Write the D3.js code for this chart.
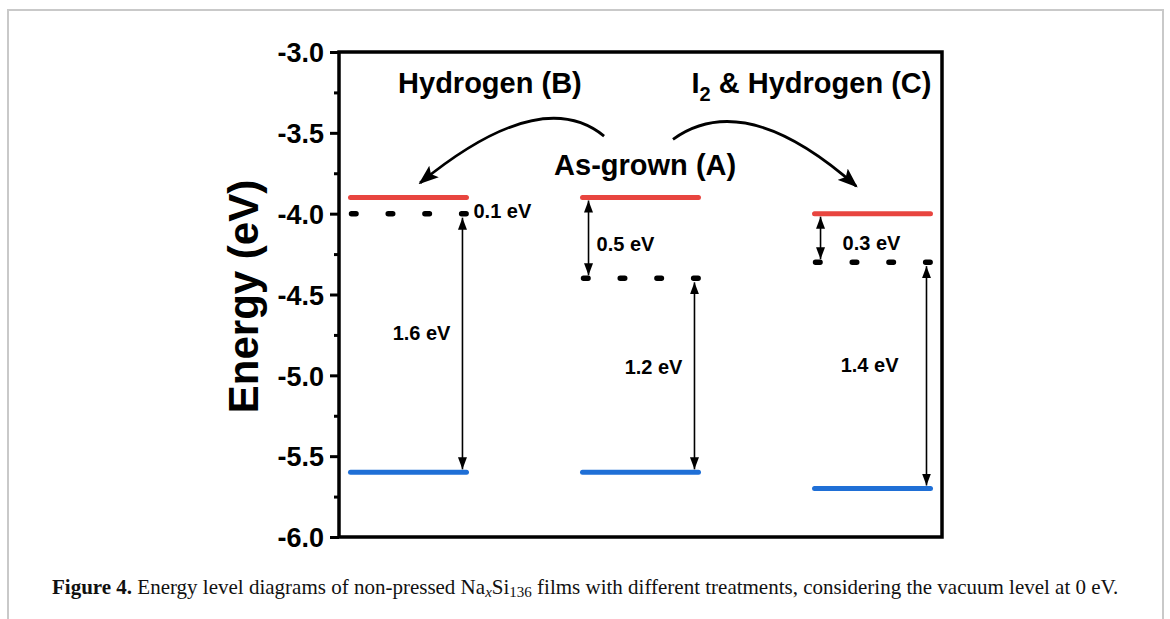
<!DOCTYPE html>
<html>
<head>
<meta charset="utf-8">
<script src="https://cdn.jsdelivr.net/npm/d3@7"></script>
<style>
  html, body { margin: 0; padding: 0; background: #fff; }
  svg { display: block; }
</style>
</head>
<body>
<svg id="chart" width="1170" height="619"></svg>
<script>
// ---------------- data ----------------
const categories = ["Hydrogen (B)", "As-grown (A)", "I2 & Hydrogen (C)"];
const cbmLevels   = [-3.9, -3.9, -4.0];   // red lines
const fermiLevels = [-4.0, -4.4, -4.3];   // dotted lines
const vbmLevels   = [-5.6, -5.6, -5.7];   // blue lines
const upperGapLabels = ["0.1 eV", "0.5 eV", "0.3 eV"];
const lowerGapLabels = ["1.6 eV", "1.2 eV", "1.4 eV"];
const yTicks = [-3.0, -3.5, -4.0, -4.5, -5.0, -5.5, -6.0];
const yMinorTicks = [-3.25, -3.75, -4.25, -4.75, -5.25, -5.75];
const yDomain = [-6.0, -3.0];
const yTitle = "Energy (eV)";
const captionBold = "Figure 4.";

// ---------------- layout ----------------
const svg = d3.select("#chart");
const plot = { left: 339, right: 942, top: 52, bottom: 537 };

const x = d3.scaleBand().domain(categories)
  .range([plot.left, plot.right]).paddingInner(0.483).paddingOuter(0.041);
const bw = x.bandwidth();
const y = d3.scaleLinear().domain(yDomain).range([plot.bottom, plot.top]);
// position along category axis: 0 = centre of first level set, 1 = second, ...
const xc = d3.scaleLinear().domain([0, 2])
  .range([x(categories[0]) + bw / 2, x(categories[2]) + bw / 2]);

const RED = "#e8453f", BLUE = "#1f6fd6";

// page frame
svg.append("rect").attr("x", 8).attr("y", 10).attr("width", 1155).attr("height", 700)
  .attr("fill", "none").attr("stroke", "#c9c9c9").attr("stroke-width", 2);

// markers
const defs = svg.append("defs");
defs.append("marker").attr("id", "hEnd").attr("viewBox", "0 -5 12 10")
  .attr("refX", 12).attr("refY", 0).attr("markerWidth", 12).attr("markerHeight", 10)
  .attr("markerUnits", "userSpaceOnUse").attr("orient", "auto")
  .append("path").attr("d", "M0,-4.5L12,0L0,4.5Z").attr("fill", "#000");
defs.append("marker").attr("id", "hStart").attr("viewBox", "0 -5 12 10")
  .attr("refX", 0).attr("refY", 0).attr("markerWidth", 12).attr("markerHeight", 10)
  .attr("markerUnits", "userSpaceOnUse").attr("orient", "auto")
  .append("path").attr("d", "M12,-4.5L0,0L12,4.5Z").attr("fill", "#000");
defs.append("marker").attr("id", "bigHead").attr("viewBox", "0 -8 20 16")
  .attr("refX", 18).attr("refY", 0).attr("markerWidth", 20).attr("markerHeight", 16)
  .attr("markerUnits", "userSpaceOnUse").attr("orient", "auto")
  .append("path").attr("d", "M0,-7.5L20,0L0,7.5L4,0Z").attr("fill", "#000");

// ---------------- axes ----------------
const yAxis = d3.axisLeft(y).tickValues(yTicks).tickSize(9).tickPadding(6)
  .tickFormat(d => d.toFixed(1));
const gy = svg.append("g").attr("transform", `translate(${plot.left},0)`).call(yAxis);
gy.select(".domain").remove();
gy.selectAll(".tick line").attr("stroke", "#000").attr("stroke-width", 3);
gy.selectAll(".tick text").attr("fill", "#000")
  .style("font-family", "'Liberation Sans', Arial, sans-serif")
  .style("font-weight", "bold").style("font-size", "27px").attr("dy", "0.36em");

const gyMinor = svg.append("g").attr("transform", `translate(${plot.left},0)`)
  .call(d3.axisLeft(y).tickValues(yMinorTicks).tickSize(5).tickFormat(""));
gyMinor.select(".domain").remove();
gyMinor.selectAll(".tick line").attr("stroke", "#000").attr("stroke-width", 3);

// frame box
svg.append("rect").attr("x", plot.left).attr("y", plot.top)
  .attr("width", plot.right - plot.left).attr("height", plot.bottom - plot.top)
  .attr("fill", "none").attr("stroke", "#000").attr("stroke-width", 3.5);

// y title
svg.append("text")
  .attr("transform", `translate(258,${(plot.top + plot.bottom) / 2 + 2}) rotate(-90)`)
  .attr("text-anchor", "middle")
  .style("font-family", "'Liberation Sans', Arial, sans-serif")
  .style("font-weight", "bold").style("font-size", "42px")
  .text(yTitle);

// ---------------- level lines ----------------
const idx = d3.range(categories.length);
const g = svg.append("g");

g.selectAll("line.cbm").data(idx).join("line").attr("class", "cbm")
  .attr("x1", i => x(categories[i]) + 2).attr("x2", i => x(categories[i]) + bw - 2)
  .attr("y1", i => y(cbmLevels[i])).attr("y2", i => y(cbmLevels[i]))
  .attr("stroke", RED).attr("stroke-width", 5).attr("stroke-linecap", "round");

g.selectAll("line.vbm").data(idx).join("line").attr("class", "vbm")
  .attr("x1", i => x(categories[i]) + 2).attr("x2", i => x(categories[i]) + bw - 2)
  .attr("y1", i => y(vbmLevels[i])).attr("y2", i => y(vbmLevels[i]))
  .attr("stroke", BLUE).attr("stroke-width", 5).attr("stroke-linecap", "round");

g.selectAll("line.fermi").data(idx).join("line").attr("class", "fermi")
  .attr("x1", i => x(categories[i]) + 3).attr("x2", i => x(categories[i]) + bw)
  .attr("y1", i => y(fermiLevels[i])).attr("y2", i => y(fermiLevels[i]))
  .attr("stroke", "#000").attr("stroke-width", 5.5).attr("stroke-linecap", "round")
  .attr("stroke-dasharray", "4.5 32.2");

// ---------------- gap arrows ----------------
const lastDash = i => x(categories[i]) + bw - 6;
// lower gaps (fermi -> vbm)
g.selectAll("line.gapLow").data(idx).join("line").attr("class", "gapLow")
  .attr("x1", lastDash).attr("x2", lastDash)
  .attr("y1", i => y(fermiLevels[i]) + 4).attr("y2", i => y(vbmLevels[i]) - 3)
  .attr("stroke", "#000").attr("stroke-width", 1.6)
  .attr("marker-start", "url(#hStart)").attr("marker-end", "url(#hEnd)");
// upper gaps (cbm -> fermi), drawn where the gap is visible (i > 0)
g.selectAll("line.gapUp").data(idx.filter(i => i > 0)).join("line").attr("class", "gapUp")
  .attr("x1", i => x(categories[i]) + 8).attr("x2", i => x(categories[i]) + 8)
  .attr("y1", i => y(cbmLevels[i]) + 3).attr("y2", i => y(fermiLevels[i]) - 3)
  .attr("stroke", "#000").attr("stroke-width", 1.6)
  .attr("marker-start", "url(#hStart)").attr("marker-end", "url(#hEnd)");

const labelFont = sel => sel
  .style("font-family", "'Liberation Sans', Arial, sans-serif")
  .style("font-weight", "bold").style("font-size", "20px").attr("fill", "#000");

// upper gap labels
const upPos = [
  { x: bw + 5, yv: (cbmLevels[0] + fermiLevels[0]) / 2 - 0.035 },
  { x: 16, yv: (cbmLevels[1] + fermiLevels[1]) / 2 - 0.04 },
  { x: 30, yv: (cbmLevels[2] + fermiLevels[2]) / 2 - 0.03 }
];
g.selectAll("text.upLbl").data(idx).join("text").attr("class", "upLbl")
  .attr("x", i => x(categories[i]) + upPos[i].x)
  .attr("y", i => y(upPos[i].yv) + 7)
  .text(i => upperGapLabels[i]).call(labelFont);

// lower gap labels (right-aligned left of arrow)
const lowY = [-4.78, -4.99, -4.98];
g.selectAll("text.lowLbl").data(idx).join("text").attr("class", "lowLbl")
  .attr("x", i => lastDash(i) - [12, 12, 28][i])
  .attr("y", i => y(lowY[i]))
  .attr("text-anchor", "end")
  .text(i => lowerGapLabels[i]).call(labelFont);

// ---------------- treatment titles and curved arrows ----------------
const titleFont = sel => sel
  .style("font-family", "'Liberation Sans', Arial, sans-serif")
  .style("font-weight", "bold").style("font-size", "29px").attr("fill", "#000");

svg.append("text").attr("x", xc(0.351)).attr("y", y(-3.253))
  .attr("text-anchor", "middle").text(categories[0]).call(titleFont);
svg.append("text").attr("x", xc(1.02)).attr("y", y(-3.759))
  .attr("text-anchor", "middle").text(categories[1]).call(titleFont);
const tC = svg.append("text").attr("x", xc(1.737)).attr("y", y(-3.253))
  .attr("text-anchor", "middle").call(titleFont);
tC.append("tspan").text("I");
tC.append("tspan").text("2").attr("dy", 8).style("font-size", "20px");
tC.append("tspan").text(" & Hydrogen (C)").attr("dy", -8);

// curved arrows (points: [category position, energy])
const leftArrow  = [[0.843, -3.52], [0.57, -3.2], [0.05, -3.81]];
const rightArrow = [[1.14, -3.54], [1.45, -3.22], [1.93, -3.83]];
const qPath = pts => {
  const p = pts.map(d => [xc(d[0]), y(d[1])]);
  const path = d3.path();
  path.moveTo(p[0][0], p[0][1]);
  path.quadraticCurveTo(p[1][0], p[1][1], p[2][0], p[2][1]);
  return path.toString();
};
[leftArrow, rightArrow].forEach(a => {
  svg.append("path").attr("d", qPath(a)).attr("fill", "none")
    .attr("stroke", "#000").attr("stroke-width", 2.8)
    .attr("marker-end", "url(#bigHead)");
});

// ---------------- caption ----------------
const cap = svg.append("text").attr("x", 52).attr("y", 594)
  .style("font-family", "'Liberation Serif', 'Times New Roman', serif")
  .style("font-size", "21px").attr("fill", "#111");
cap.append("tspan").text(captionBold + " ").style("font-weight", "bold");
cap.append("tspan").text("Energy level diagrams of non-pressed Na");
cap.append("tspan").text("x").style("font-style", "italic").style("font-size", "15px").attr("dy", 3);
cap.append("tspan").text("Si").attr("dy", -3);
cap.append("tspan").text("136").style("font-size", "15px").attr("dy", 3);
cap.append("tspan").text(" films with different treatments, considering the vacuum level at 0 eV.").attr("dy", -3);
</script>
</body>
</html>
